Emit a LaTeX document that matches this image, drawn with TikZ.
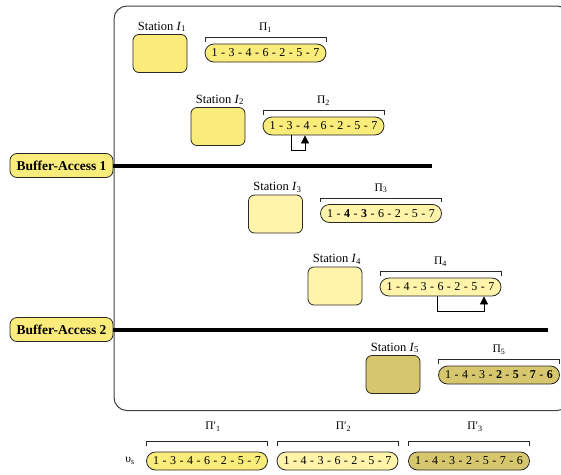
\documentclass[tikz,border=0pt]{standalone}
\usepackage{fontspec}
\setmainfont{Liberation Serif}
\newfontfamily\pillfamily[WordSpace=1.16]{Liberation Serif}
\usetikzlibrary{arrows.meta}
\definecolor{ybright}{RGB}{250,236,122}
\definecolor{ypale}{RGB}{255,244,170}
\definecolor{yolive}{RGB}{214,199,110}
\definecolor{edge}{RGB}{40,40,40}
\begin{document}
\begin{tikzpicture}[x=1pt,y=-1pt,
  station/.style={draw=edge, line width=0.8pt, rounded corners=6pt, minimum width=54pt, minimum height=38pt, inner sep=0pt},
  pill/.style={draw=edge, line width=0.8pt, rounded corners=9pt, minimum width=121pt, minimum height=18pt, inner sep=0pt, font=\pillfamily\fontsize{12}{13}\selectfont},
  stlbl/.style={font=\fontsize{12.5}{13}\selectfont, inner sep=0pt, anchor=base},
  pilbl/.style={font=\fontsize{11.5}{12}\selectfont, inner sep=0pt, anchor=base},
  buffer/.style={draw=edge, line width=0.8pt, fill=ybright, rounded corners=7pt, minimum width=103pt, minimum height=24pt, inner sep=0pt, font=\bfseries\fontsize{13.5}{14}\selectfont},
  bus/.style={line width=4pt},
  brk/.style={line width=0.7pt, edge},
  swaparrow/.style={-{Triangle[length=8pt,width=8pt]}, line width=0.8pt},
  frame/.style={line width=1pt, draw=black!75, rounded corners=13pt}
]
\useasboundingbox (0,0) rectangle (561,474);
% outer frame
\draw[frame] (114,6) rectangle (570,410.5);

% stations
\node[station, fill=ybright] (s1) at (160,53.5) {};
\node[station, fill=ybright] (s2) at (218,126.5) {};
\node[station, fill=ypale]   (s3) at (275.5,214) {};
\node[station, fill=ypale]   (s4) at (335,286) {};
\node[station, fill=yolive]  (s5) at (393,374.5) {};
\foreach \i in {1,...,5}{
  \node[stlbl] (sl\i) at ([xshift=2pt,yshift=4pt]s\i.north) {Station \textit{I}\textsubscript{\i}};
}

% sequences
\node[pill, fill=ybright] (p1) at (265.5,53) {1 - 3 - 4 - 6 - 2 - 5 - 7};
\node[pill, fill=ybright] (p2) at (323.5,126) {1 - 3 - 4 - 6 - 2 - 5 - 7};
\node[pill, fill=ypale]   (p3) at (381,213.5) {1 - \textbf{4} - \textbf{3} - 6 - 2 - 5 - 7};
\node[pill, fill=ypale]   (p4) at (440.5,287) {1 - 4 - 3 - 6 - 2 - 5 - 7};
\node[pill, fill=yolive]  (p5) at (499,375) {1 - 4 - 3 - \textbf{2} - \textbf{5} - \textbf{7} - \textbf{6}};
\foreach \i in {1,...,5}{
  \draw[brk] ([shift={(0.5pt,2pt)}]p\i.north west) -- ++(0,4pt) -- ([shift={(-0.5pt,6pt)}]p\i.north east) -- ++(0,-4pt);
  \node[pilbl] (pl\i) at ([yshift=13pt]p\i.north) {Π\textsubscript{\i}};
}

% swap arrows
\draw[swaparrow] ([xshift=-32.5pt]p2.south) -- ++(0,-15pt) -| ([xshift=-18.5pt]p2.south);
\draw[swaparrow] ([xshift=-3.5pt]p4.south) -- ++(0,-15pt) -| ([xshift=43.5pt]p4.south);

% buffers
\node[buffer] (b1) at (61.5,165.5) {Buffer-Access 1};
\node[buffer] (b2) at (61.5,329.5) {Buffer-Access 2};
\coordinate (e1) at (432,165.5);
\coordinate (e2) at (548,329.5);
\draw[bus] (b1.east) -- (e1);
\draw[bus] (b2.east) -- (e2);

% bottom summary
\node[pill, fill=ybright] (q1) at (207,461) {1 - 3 - 4 - 6 - 2 - 5 - 7};
\node[pill, fill=ypale]   (q2) at (337.5,461) {1 - 4 - 3 - 6 - 2 - 5 - 7};
\node[pill, fill=yolive]  (q3) at (469,461) {1 - 4 - 3 - 2 - 5 - 7 - 6};
\foreach \i in {1,2,3}{
  \draw[brk] ([shift={(0.5pt,6pt)}]q\i.north west) -- ++(0,4pt) -- ([shift={(-0.5pt,10pt)}]q\i.north east) -- ++(0,-4pt);
  \node[pilbl] (ql\i) at ([xshift=6pt,yshift=22pt]q\i.north) {Π′\textsubscript{\i}};
}
\node[pilbl, anchor=center] (ups) at (130,461) {υ\textsubscript{s}};
\end{tikzpicture}
\end{document}
